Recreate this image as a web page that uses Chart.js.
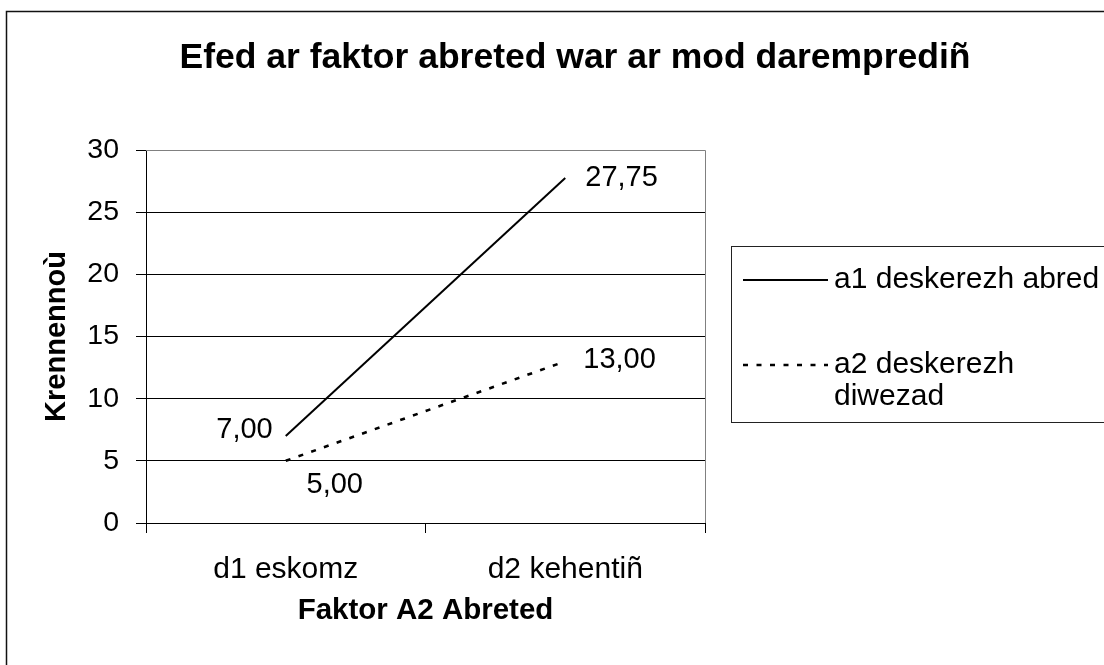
<!DOCTYPE html>
<html>
<head>
<meta charset="utf-8">
<script src="https://cdn.jsdelivr.net/npm/chart.js@4.4.1/dist/chart.umd.min.js"></script>
<style>
  html, body { margin: 0; padding: 0; background: #fff; overflow: hidden; }
  #wrap { width: 1104px; height: 665px; }
</style>
</head>
<body>
<div id="wrap"><canvas id="graph" width="1104" height="665"></canvas></div>
<script>
var chartTitle = "Efed ar faktor abreted war ar mod darempredIñ".replace("I", "i");
var xTitle = "Faktor A2 Abreted";
var yTitle = "Krennennoù";
var categories = ["d1 eskomz", "d2 kehentiñ"];
var a1Values = [7.00, 27.75];
var a2Values = [5.00, 13.00];
var a1Name = ["a1 deskerezh abred"];
var a2Name = ["a2 deskerezh", "diwezad"];
var yMin = 0, yMax = 30, yStep = 5;

var FONT = "'Liberation Sans', Arial, sans-serif";

// where each value label sits relative to its point
var labelPlace = [
  [{ align: "right", dx: -13, dy: -6 }, { align: "left", dx: 20, dy: 0 }],
  [{ align: "center", dx: 49, dy: 24 }, { align: "left", dx: 18, dy: -1 }]
];

function fmt(v) {
  return v.toFixed(2).replace(".", ",");
}

var extras = {
  id: "extras",
  beforeDraw: function (chart) {
    var ctx = chart.ctx;
    ctx.save();
    ctx.fillStyle = "#fff";
    ctx.fillRect(0, 0, chart.width, chart.height);
    ctx.strokeStyle = "#111";
    ctx.lineWidth = 1.5;
    ctx.strokeRect(6.5, 11.5, 1300, 800);
    ctx.fillStyle = "#000";
    ctx.font = "bold 35.5px " + FONT;
    ctx.textAlign = "center";
    ctx.textBaseline = "middle";
    ctx.fillText(chartTitle, 575, 58);
    ctx.restore();
  },
  afterDraw: function (chart) {
    var ctx = chart.ctx;
    var area = chart.chartArea;
    ctx.save();
    // plot area border top / right
    ctx.strokeStyle = "#808080";
    ctx.lineWidth = 1;
    ctx.beginPath();
    ctx.moveTo(area.left, Math.round(area.top) + 0.5);
    ctx.lineTo(Math.round(area.right) + 0.5, Math.round(area.top) + 0.5);
    ctx.lineTo(Math.round(area.right) + 0.5, area.bottom);
    ctx.stroke();

    // value labels
    ctx.fillStyle = "#000";
    ctx.font = "29px " + FONT;
    ctx.textBaseline = "middle";
    chart.data.datasets.forEach(function (ds, i) {
      var meta = chart.getDatasetMeta(i);
      meta.data.forEach(function (pt, j) {
        var p = labelPlace[i][j];
        ctx.textAlign = p.align;
        ctx.fillText(fmt(ds.data[j]), pt.x + p.dx, pt.y + p.dy);
      });
    });

    // legend
    ctx.strokeStyle = "#222";
    ctx.lineWidth = 1;
    ctx.strokeRect(731.5, 246.5, 500, 176);
    ctx.font = "30px " + FONT;
    var rows = [280, 365];
    chart.data.datasets.forEach(function (ds, i) {
      var y = rows[i];
      ctx.strokeStyle = ds.borderColor;
      ctx.lineWidth = ds.borderWidth;
      ctx.setLineDash(ds.borderDash || []);
      ctx.beginPath();
      ctx.moveTo(743, y);
      ctx.lineTo(828, y);
      ctx.stroke();
      ctx.setLineDash([]);
      ctx.fillStyle = "#000";
      ctx.textAlign = "left";
      ds.legendText.forEach(function (t, k) {
        ctx.fillText(t, 834, y + k * 32);
      });
    });
    ctx.restore();
  }
};

var chart = new Chart("graph", {
  type: "line",
  data: {
    labels: categories,
    datasets: [{
      label: a1Name.join(" "),
      legendText: a1Name,
      data: a1Values,
      borderColor: "#000",
      borderWidth: 2,
      pointRadius: 0,
      fill: false,
      tension: 0
    }, {
      label: a2Name.join(" "),
      legendText: a2Name,
      data: a2Values,
      borderColor: "#000",
      borderWidth: 2.6,
      borderDash: [5, 8.5],
      pointRadius: 0,
      fill: false,
      tension: 0
    }]
  },
  plugins: [extras],
  options: {
    responsive: false,
    animation: false,
    devicePixelRatio: 1,
    layout: { padding: { left: 0, right: 399, top: 150, bottom: 0 } },
    plugins: {
      legend: { display: false },
      title: { display: false },
      tooltip: { enabled: false }
    },
    scales: {
      x: {
        type: "category",
        offset: true,
        afterFit: function (scale) { scale.height = 142; },
        grid: {
          offset: true,
          drawOnChartArea: false,
          drawTicks: true,
          tickLength: 10,
          color: "#000"
        },
        border: { color: "#000", width: 1 },
        ticks: {
          color: "#000",
          font: { family: FONT, size: 30 },
          padding: 19,
          maxRotation: 0
        },
        title: {
          display: true,
          text: xTitle,
          color: "#000",
          font: { family: FONT, size: 29.5, weight: "bold" },
          padding: { top: 0, bottom: 36 }
        }
      },
      y: {
        min: yMin,
        max: yMax,
        afterFit: function (scale) { scale.width = 146; },
        grid: {
          color: function (c) { return c.tick && c.tick.value === yMax ? "#808080" : "#000"; },
          tickColor: "#000",
          tickLength: 10,
          lineWidth: 1
        },
        border: { color: "#000", width: 1 },
        ticks: {
          stepSize: yStep,
          color: "#000",
          font: { family: FONT, size: 28.5 },
          padding: 17
        },
        title: {
          display: true,
          text: yTitle,
          color: "#000",
          font: { family: FONT, size: 29, weight: "bold" },
          padding: { top: 40, bottom: 0 }
        }
      }
    }
  }
});
</script>
</body>
</html>
